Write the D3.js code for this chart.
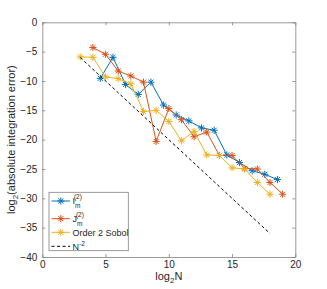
<!DOCTYPE html>
<html lang="en">
<head>
  <meta charset="UTF-8">
  <title>Integration error convergence</title>
  <style>
    body { margin: 0; overflow: hidden; background: #fff; }
    svg { display: block; font-family: "Liberation Sans", Arial, sans-serif; }
    .axis path, .axis line { stroke: #808080; stroke-width: 0.8; }
    .axis text { fill: #262626; font-size: 10px; }
  </style>
  <script src="https://d3js.org/d3.v7.min.js"></script>
</head>
<body>
  <svg></svg>
  <script>
    const width = 327, height = 289;

    // I_m^(2): x = log2(3*2^k)
    const blueX = [4.585, 5.585, 6.585, 7.585, 8.585, 9.585, 10.585, 11.585, 12.585, 13.585, 14.585, 15.585, 16.585, 17.585, 18.585];
    const blueY = [-9.55, -5.97, -10.6, -12.3, -10.2, -14.1, -15.8, -16.8, -18.0, -18.4, -22.6, -23.9, -25.3, -25.9, -26.8];

    // J_m^(2)
    const orangeX = [4, 5, 6, 7, 8, 9, 10, 11, 12, 13, 14, 15, 16, 17, 18, 19];
    const orangeY = [-4.3, -5.45, -8.3, -9.15, -10.2, -20.3, -14.7, -16.6, -19.5, -18.7, -22.7, -22.7, -24.9, -25.0, -27.3, -29.3];

    // Order 2 Sobol
    const yellowX = [3, 4, 5, 6, 7, 8, 9, 10, 11, 12, 13, 14, 15, 16, 17, 18];
    const yellowY = [-5.9, -5.97, -9.3, -9.6, -10.5, -15.2, -15.0, -16.9, -20.2, -18.6, -22.6, -22.7, -24.8, -25.0, -27.3, -29.3];

    // N^-2 reference
    const refX = [3, 18];
    const refY = [-6, -36];

    const xTicks = [0, 5, 10, 15, 20];
    const yTicks = [0, -5, -10, -15, -20, -25, -30, -35, -40];

    const margin = {left: 42.3, right: width - 295.3, top: 22.3, bottom: height - 257};

    const svg = d3.select("svg").attr("width", width).attr("height", height);

    const x = d3.scaleLinear().domain([0, 20]).range([margin.left, width - margin.right]);
    const y = d3.scaleLinear().domain([-40, 0]).range([height - margin.bottom, margin.top]);

    // axes with inward ticks (box style)
    svg.append("g").attr("class", "axis")
      .attr("transform", `translate(0,${y(-40)})`)
      .call(d3.axisBottom(x).tickValues(xTicks).tickSizeInner(-3).tickSizeOuter(0).tickPadding(6))
      .call(g => g.selectAll("text").attr("dy", "0.5em"));
    svg.append("g").attr("class", "axis")
      .attr("transform", `translate(0,${y(0)})`)
      .call(d3.axisTop(x).tickValues(xTicks).tickSizeInner(-3).tickSizeOuter(0).tickFormat(""));
    svg.append("g").attr("class", "axis")
      .attr("transform", `translate(${x(0)},0)`)
      .call(d3.axisLeft(y).tickValues(yTicks).tickSizeInner(-3).tickSizeOuter(0).tickPadding(5));
    svg.append("g").attr("class", "axis")
      .attr("transform", `translate(${x(20)},0)`)
      .call(d3.axisRight(y).tickValues(yTicks).tickSizeInner(-3).tickSizeOuter(0).tickFormat(""));

    // labels
    const xl = svg.append("text").attr("x", x(10)).attr("y", 280)
      .attr("text-anchor", "middle").attr("fill", "#262626").attr("font-size", 11);
    xl.append("tspan").text("log");
    xl.append("tspan").attr("font-size", 8).attr("dy", 3).text("2");
    xl.append("tspan").attr("dy", -3).text("N");

    const yl = svg.append("text")
      .attr("transform", `translate(15,${y(-20)}) rotate(-90)`)
      .attr("text-anchor", "middle").attr("fill", "#262626").attr("font-size", 11);
    yl.append("tspan").text("log");
    yl.append("tspan").attr("font-size", 8).attr("dy", 3).text("2");
    yl.append("tspan").attr("dy", -3).text("(absolute integration error)");

    const line = d3.line().x(d => x(d[0])).y(d => y(d[1]));

    function star(g, cx, cy, color, r) {
      const s = g.append("g").attr("transform", `translate(${cx},${cy})`)
        .attr("stroke", color).attr("stroke-width", 1);
      [0, 45, 90, 135].forEach(a => {
        const t = a * Math.PI / 180;
        s.append("line")
          .attr("x1", -r * Math.cos(t)).attr("y1", -r * Math.sin(t))
          .attr("x2", r * Math.cos(t)).attr("y2", r * Math.sin(t));
      });
    }

    const series = [
      {xs: blueX, ys: blueY, color: "#0072BD"},
      {xs: orangeX, ys: orangeY, color: "#D95319"},
      {xs: yellowX, ys: yellowY, color: "#EDB120"}
    ];

    series.forEach(s => {
      const pts = s.xs.map((v, i) => [v, s.ys[i]]);
      svg.append("path").datum(pts)
        .attr("fill", "none").attr("stroke", s.color).attr("stroke-width", 1)
        .attr("d", line);
      const g = svg.append("g");
      pts.forEach(p => star(g, x(p[0]), y(p[1]), s.color, 3.6));
    });

    svg.append("path").datum(refX.map((v, i) => [v, refY[i]]))
      .attr("fill", "none").attr("stroke", "#000").attr("stroke-width", 1)
      .attr("stroke-dasharray", "3,2.5").attr("d", line);

    // legend
    const lg = svg.append("g");
    lg.append("rect").attr("x", 49).attr("y", 192.3).attr("width", 79.3).attr("height", 58.4)
      .attr("fill", "#fff").attr("stroke", "#808080").attr("stroke-width", 0.8);
    const rows = [
      {color: "#0072BD", main: "I", y: 201, marker: true},
      {color: "#D95319", main: "J", y: 218.7, marker: true},
      {color: "#EDB120", main: "Order 2 Sobol", y: 232.3, marker: true},
      {color: "#000", main: "N", y: 246.3, marker: false}
    ];
    rows.forEach((r, i) => {
      lg.append("line").attr("x1", 51.5).attr("x2", 70).attr("y1", r.y).attr("y2", r.y)
        .attr("stroke", r.color).attr("stroke-width", 1)
        .attr("stroke-dasharray", r.marker ? null : "3,2.5");
      if (r.marker) star(lg, 60.8, r.y, r.color, 3.6);
      const t = lg.append("text").attr("x", 72.5).attr("y", r.y + 3.3)
        .attr("fill", "#262626").attr("font-size", 9);
      if (i < 2) {
        t.append("tspan").text(r.main);
        t.append("tspan").attr("font-size", 6.5).attr("dy", 3.5).text("m");
        t.append("tspan").attr("font-size", 6.5).attr("dx", -6.5).attr("dy", -9).text("(2)");
      } else if (i === 2) {
        t.text(r.main);
      } else {
        t.append("tspan").text("N");
        t.append("tspan").attr("font-size", 6.5).attr("dy", -4).text("-2");
      }
    });
  </script>
</body>
</html>
